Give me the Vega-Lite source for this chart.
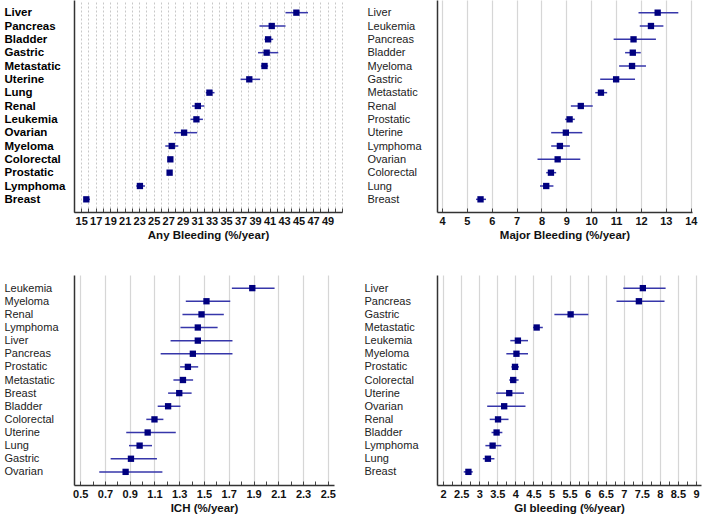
{
  "$schema": "https://vega.github.io/schema/vega-lite/v6.json",
  "padding": {"left": 4, "top": 0, "right": 5, "bottom": 5},
  "background": "white",
  "config": {
    "view": {"stroke": null},
    "font": "Liberation Sans",
    "axis": {"domainColor": "#333333", "domainWidth": 1.5, "tickColor": "#444444", "labelColor": "#111111", "titleColor": "#111111", "labelOverlap": false}
  },
  "datasets": {
    "any": [
      {"cancer": "Liver", "rate": 44.7, "lo": 43.2, "hi": 46.3},
      {"cancer": "Pancreas", "rate": 41.3, "lo": 39.6, "hi": 43.2},
      {"cancer": "Bladder", "rate": 40.8, "lo": 40.3, "hi": 41.5},
      {"cancer": "Gastric", "rate": 40.6, "lo": 39.4, "hi": 42.2},
      {"cancer": "Metastatic", "rate": 40.3, "lo": 39.8, "hi": 40.8},
      {"cancer": "Uterine", "rate": 38.2, "lo": 37.0, "hi": 39.7},
      {"cancer": "Lung", "rate": 32.7, "lo": 32.2, "hi": 33.4},
      {"cancer": "Renal", "rate": 31.1, "lo": 30.3, "hi": 32.0},
      {"cancer": "Leukemia", "rate": 30.9, "lo": 30.1, "hi": 31.8},
      {"cancer": "Ovarian", "rate": 29.2, "lo": 27.8, "hi": 31.0},
      {"cancer": "Myeloma", "rate": 27.5, "lo": 26.6, "hi": 28.4},
      {"cancer": "Colorectal", "rate": 27.3, "lo": 27.0, "hi": 27.6},
      {"cancer": "Prostatic", "rate": 27.2, "lo": 26.9, "hi": 27.5},
      {"cancer": "Lymphoma", "rate": 23.1, "lo": 22.6, "hi": 23.8},
      {"cancer": "Breast", "rate": 15.7, "lo": 15.5, "hi": 16.2}
    ],
    "major": [
      {"cancer": "Liver", "rate": 12.67, "lo": 11.9, "hi": 13.5},
      {"cancer": "Leukemia", "rate": 12.4, "lo": 11.95, "hi": 12.9},
      {"cancer": "Pancreas", "rate": 11.7, "lo": 10.9, "hi": 12.6},
      {"cancer": "Bladder", "rate": 11.67, "lo": 11.36, "hi": 11.99},
      {"cancer": "Myeloma", "rate": 11.64, "lo": 11.12, "hi": 12.2},
      {"cancer": "Gastric", "rate": 11.0, "lo": 10.36, "hi": 11.76},
      {"cancer": "Metastatic", "rate": 10.39, "lo": 10.16, "hi": 10.64},
      {"cancer": "Renal", "rate": 9.58, "lo": 9.18, "hi": 10.06},
      {"cancer": "Prostatic", "rate": 9.13, "lo": 8.95, "hi": 9.34},
      {"cancer": "Uterine", "rate": 8.98, "lo": 8.39, "hi": 9.64},
      {"cancer": "Lymphoma", "rate": 8.74, "lo": 8.39, "hi": 9.14},
      {"cancer": "Ovarian", "rate": 8.65, "lo": 7.84, "hi": 9.56},
      {"cancer": "Colorectal", "rate": 8.38, "lo": 8.19, "hi": 8.59},
      {"cancer": "Lung", "rate": 8.19, "lo": 7.94, "hi": 8.48},
      {"cancer": "Breast", "rate": 5.55, "lo": 5.37, "hi": 5.77}
    ],
    "ich": [
      {"cancer": "Leukemia", "rate": 1.89, "lo": 1.725, "hi": 2.07},
      {"cancer": "Myeloma", "rate": 1.52, "lo": 1.353, "hi": 1.712},
      {"cancer": "Renal", "rate": 1.48, "lo": 1.326, "hi": 1.66},
      {"cancer": "Lymphoma", "rate": 1.45, "lo": 1.31, "hi": 1.61},
      {"cancer": "Liver", "rate": 1.45, "lo": 1.23, "hi": 1.73},
      {"cancer": "Pancreas", "rate": 1.41, "lo": 1.15, "hi": 1.73},
      {"cancer": "Prostatic", "rate": 1.37, "lo": 1.307, "hi": 1.453},
      {"cancer": "Metastatic", "rate": 1.33, "lo": 1.253, "hi": 1.412},
      {"cancer": "Breast", "rate": 1.3, "lo": 1.21, "hi": 1.4},
      {"cancer": "Bladder", "rate": 1.21, "lo": 1.126, "hi": 1.31},
      {"cancer": "Colorectal", "rate": 1.1, "lo": 1.034, "hi": 1.172},
      {"cancer": "Uterine", "rate": 1.045, "lo": 0.872, "hi": 1.272},
      {"cancer": "Lung", "rate": 0.98, "lo": 0.894, "hi": 1.08},
      {"cancer": "Gastric", "rate": 0.91, "lo": 0.746, "hi": 1.12},
      {"cancer": "Ovarian", "rate": 0.867, "lo": 0.654, "hi": 1.164}
    ],
    "gi": [
      {"cancer": "Liver", "rate": 7.53, "lo": 6.99, "hi": 8.16},
      {"cancer": "Pancreas", "rate": 7.42, "lo": 6.8, "hi": 8.13},
      {"cancer": "Gastric", "rate": 5.53, "lo": 5.08, "hi": 6.02},
      {"cancer": "Metastatic", "rate": 4.59, "lo": 4.49, "hi": 4.76},
      {"cancer": "Leukemia", "rate": 4.07, "lo": 3.86, "hi": 4.35},
      {"cancer": "Myeloma", "rate": 4.03, "lo": 3.75, "hi": 4.35},
      {"cancer": "Prostatic", "rate": 3.99, "lo": 3.89, "hi": 4.1},
      {"cancer": "Colorectal", "rate": 3.94, "lo": 3.83, "hi": 4.09},
      {"cancer": "Uterine", "rate": 3.83, "lo": 3.47, "hi": 4.24},
      {"cancer": "Ovarian", "rate": 3.69, "lo": 3.22, "hi": 4.28},
      {"cancer": "Renal", "rate": 3.52, "lo": 3.29, "hi": 3.81},
      {"cancer": "Bladder", "rate": 3.48, "lo": 3.34, "hi": 3.64},
      {"cancer": "Lymphoma", "rate": 3.37, "lo": 3.17, "hi": 3.61},
      {"cancer": "Lung", "rate": 3.24, "lo": 3.1, "hi": 3.42},
      {"cancer": "Breast", "rate": 2.7, "lo": 2.57, "hi": 2.82}
    ]
  },
  "bounds": "flush",
  "columns": 2,
  "spacing": {"row": 63, "column": 95},
  "concat": [
    {
      "width": 268,
      "height": 212,
      "data": {"name": "any"},
      "encoding": {
        "y": {"field": "cancer", "type": "nominal", "sort": null, "scale": {"type": "point", "padding": 0.95},
          "axis": {"title": null, "ticks": false, "grid": false, "labelAlign": "left", "labelPadding": 70, "labelFontSize": 11.5, "labelFontWeight": "bold", "labelColor": "#000000"}}
      },
      "layer": [
        {
          "mark": {"type": "rule", "color": "#3636aa", "strokeWidth": 1.5},
          "encoding": {
            "x": {"field": "lo", "type": "quantitative", "scale": {"domain": [14, 51], "nice": false, "zero": false},
              "axis": {"title": "Any Bleeding (%/year)", "titleFontSize": 11.5, "titleFontWeight": "bold", "titlePadding": 3, "tickCount": 200,
                "values": [14,15,16,17,18,19,20,21,22,23,24,25,26,27,28,29,30,31,32,33,34,35,36,37,38,39,40,41,42,43,44,45,46,47,48,49,50,51],
                "labelExpr": "datum.value % 2 == 1 && datum.value < 50 ? datum.label : ''", "format": "d",
                "labelFontSize": 11, "labelFontWeight": "bold", "labelPadding": 7, "tickSize": -4, "labelFlush": false,
                "grid": true, "gridColor": "#c8c8c8", "gridDash": [2, 2], "gridWidth": 1}},
            "x2": {"field": "hi"}
          }
        },
        {
          "mark": {"type": "square", "color": "#00007f", "opacity": 1, "size": 40},
          "encoding": {"x": {"field": "rate", "type": "quantitative"}}
        }
      ]
    },
    {
      "width": 255,
      "height": 212,
      "data": {"name": "major"},
      "encoding": {
        "y": {"field": "cancer", "type": "nominal", "sort": null, "scale": {"type": "point", "padding": 0.95},
          "axis": {"title": null, "ticks": false, "grid": false, "labelAlign": "left", "labelPadding": 70, "labelFontSize": 11, "labelFontWeight": "normal", "labelColor": "#222222"}}
      },
      "layer": [
        {
          "mark": {"type": "rule", "color": "#3636aa", "strokeWidth": 1.5},
          "encoding": {
            "x": {"field": "lo", "type": "quantitative", "scale": {"domain": [3.8, 14.05], "nice": false, "zero": false},
              "axis": {"title": "Major Bleeding (%/year)", "titleFontSize": 11.5, "titleFontWeight": "bold", "titlePadding": 3, "tickCount": 200,
                "values": [4,4.5,5,5.5,6,6.5,7,7.5,8,8.5,9,9.5,10,10.5,11,11.5,12,12.5,13,13.5,14],
                "labelExpr": "datum.value % 1 == 0 ? datum.label : ''", "format": "d",
                "labelFontSize": 11, "labelFontWeight": "bold", "labelPadding": 7, "tickSize": -4, "labelFlush": false,
                "grid": true, "gridColor": "#d6d6d6", "gridWidth": 1.2,
                "gridOpacity": {"condition": {"test": "datum.value % 1 != 0", "value": 0}, "value": 1}}},
            "x2": {"field": "hi"}
          }
        },
        {
          "mark": {"type": "square", "color": "#00007f", "opacity": 1, "size": 40},
          "encoding": {"x": {"field": "rate", "type": "quantitative"}}
        }
      ]
    },
    {
      "width": 260,
      "height": 210,
      "data": {"name": "ich"},
      "encoding": {
        "y": {"field": "cancer", "type": "nominal", "sort": null, "scale": {"type": "point", "padding": 1.0},
          "axis": {"title": null, "ticks": false, "grid": false, "labelAlign": "left", "labelPadding": 70, "labelFontSize": 11, "labelFontWeight": "normal", "labelColor": "#222222"}}
      },
      "layer": [
        {
          "mark": {"type": "rule", "color": "#3636aa", "strokeWidth": 1.5},
          "encoding": {
            "x": {"field": "lo", "type": "quantitative", "scale": {"domain": [0.45, 2.55], "nice": false, "zero": false},
              "axis": {"title": "ICH (%/year)", "titleFontSize": 11.5, "titleFontWeight": "bold", "titlePadding": 3, "tickCount": 200,
                "values": [0.5,0.6,0.7,0.8,0.9,1.0,1.1,1.2,1.3,1.4,1.5,1.6,1.7,1.8,1.9,2.0,2.1,2.2,2.3,2.4,2.5],
                "labelExpr": "round(datum.value * 10) % 2 == 1 ? datum.label : ''", "format": ".1f",
                "labelFontSize": 11, "labelFontWeight": "bold", "labelPadding": 7, "tickSize": -4, "labelFlush": false,
                "grid": true, "gridColor": "#d6d6d6", "gridWidth": 1.2,
                "gridOpacity": {"condition": {"test": "round(datum.value * 10) % 2 != 1", "value": 0}, "value": 1}}},
            "x2": {"field": "hi"}
          }
        },
        {
          "mark": {"type": "square", "color": "#00007f", "opacity": 1, "size": 40},
          "encoding": {"x": {"field": "rate", "type": "quantitative"}}
        }
      ]
    },
    {
      "width": 264,
      "height": 210,
      "data": {"name": "gi"},
      "encoding": {
        "y": {"field": "cancer", "type": "nominal", "sort": null, "scale": {"type": "point", "padding": 1.0},
          "axis": {"title": null, "ticks": false, "grid": false, "labelAlign": "left", "labelPadding": 73, "labelFontSize": 11, "labelFontWeight": "normal", "labelColor": "#222222"}}
      },
      "layer": [
        {
          "mark": {"type": "rule", "color": "#3636aa", "strokeWidth": 1.5},
          "encoding": {
            "x": {"field": "lo", "type": "quantitative", "scale": {"domain": [1.83, 9.14], "nice": false, "zero": false},
              "axis": {"title": "GI bleeding (%/year)", "titleFontSize": 11.5, "titleFontWeight": "bold", "titlePadding": 3, "tickCount": 200,
                "values": [2,2.25,2.5,2.75,3,3.25,3.5,3.75,4,4.25,4.5,4.75,5,5.25,5.5,5.75,6,6.25,6.5,6.75,7,7.25,7.5,7.75,8,8.25,8.5,8.75,9],
                "labelExpr": "datum.value % 0.5 == 0 ? datum.label : ''", "format": "~g",
                "labelFontSize": 11, "labelFontWeight": "bold", "labelPadding": 7, "tickSize": -4, "labelFlush": false,
                "grid": true, "gridColor": "#d6d6d6", "gridWidth": 1.2,
                "gridOpacity": {"condition": {"test": "datum.value % 0.5 != 0", "value": 0}, "value": 1}}},
            "x2": {"field": "hi"}
          }
        },
        {
          "mark": {"type": "square", "color": "#00007f", "opacity": 1, "size": 40},
          "encoding": {"x": {"field": "rate", "type": "quantitative"}}
        }
      ]
    }
  ]
}
